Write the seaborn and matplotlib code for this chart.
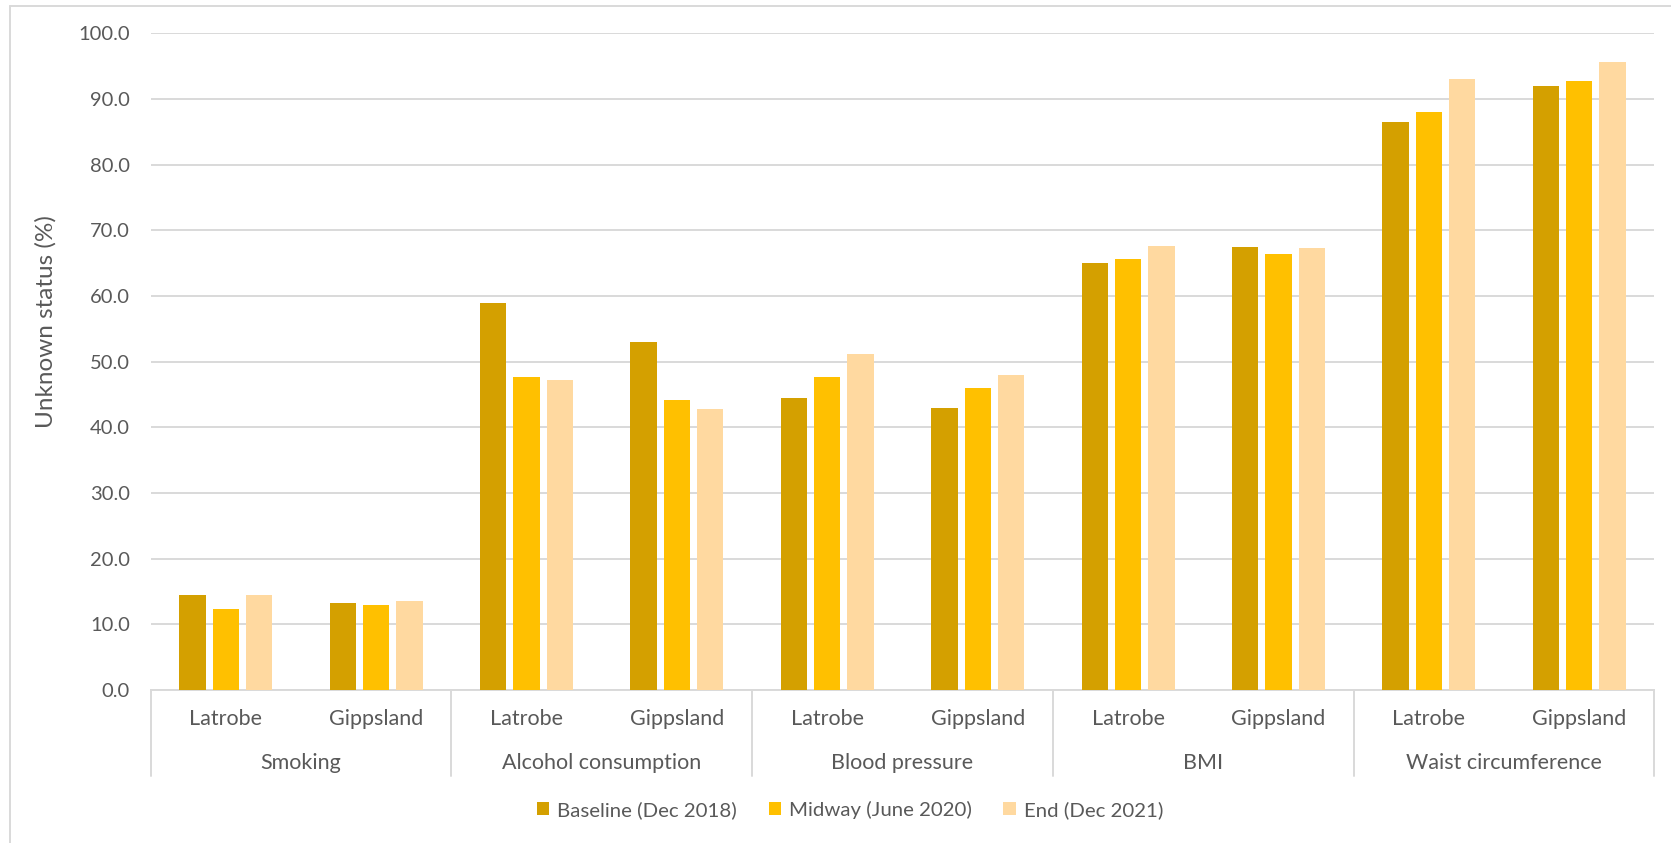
import matplotlib
matplotlib.use("Agg")
import matplotlib.pyplot as plt
from matplotlib.patches import Patch
from matplotlib.lines import Line2D
import matplotlib.transforms as mtransforms
import numpy as np
import pandas as pd
import seaborn as sns

# Data
measures = ["Smoking", "Alcohol consumption", "Blood pressure", "BMI", "Waist circumference"]
regions = ["Latrobe", "Gippsland"]
periods = ["Baseline (Dec 2018)", "Midway (June 2020)", "End (Dec 2021)"]

baseline = [14.4, 13.3, 59.0, 53.0, 44.4, 43.0, 65.0, 67.5, 86.5, 92.0]
midway = [12.4, 12.9, 47.6, 44.1, 47.7, 46.0, 65.7, 66.4, 88.0, 92.7]
end = [14.4, 13.6, 47.2, 42.8, 51.2, 47.9, 67.6, 67.3, 93.1, 95.6]

y_ticks = [0, 10, 20, 30, 40, 50, 60, 70, 80, 90, 100]
y_label = "Unknown status (%)"

colors = ["#D4A000", "#FFC000", "#FFD9A0"]
text_color = "#595959"
grid_color = "#D9D9D9"

# Long-format table
slots = [f"{m}|{r}" for m in measures for r in regions]
rows = []
for series_name, vals in zip(periods, [baseline, midway, end]):
    for slot, v in zip(slots, vals):
        rows.append({"slot": slot, "period": series_name, "value": v})
df = pd.DataFrame(rows)

sns.set_theme(style="white")
plt.rcParams["font.family"] = ["Lato", "DejaVu Sans"]

fig = plt.figure(figsize=(16.71, 8.43), dpi=100)
W, H = 1671, 843
ax = fig.add_axes([150.7 / W, 1 - 690 / H, (1654.3 - 150.7) / W, (690 - 33.3) / H])

sns.barplot(data=df, x="slot", y="value", hue="period", order=slots,
            hue_order=periods, palette=colors, width=0.665, gap=0.21,
            saturation=1, errorbar=None, legend=False, ax=ax, zorder=3,
            edgecolor="none")

ax.set_xlim(-0.5, len(slots) - 0.5)
ax.set_ylim(0, 100)
ax.set_yticks(y_ticks)
ax.set_yticklabels([f"{t:.1f}" for t in y_ticks])
ax.yaxis.grid(True, color=grid_color, linewidth=1.4, zorder=0)
ax.set_axisbelow(True)
ax.tick_params(axis="y", length=0, pad=15, labelsize=14.5, labelcolor=text_color)
ax.set_xticks([])
ax.set_xlabel("")
ax.set_ylabel("")
for side in ["top", "right", "left"]:
    ax.spines[side].set_visible(False)
ax.spines["bottom"].set_color(grid_color)
ax.spines["bottom"].set_linewidth(1.4)

# Two-level category labels
trans = mtransforms.blended_transform_factory(ax.transData, ax.transAxes)
span = 690 - 33.3
y_sub = -(719 - 690) / span
y_grp = -(763 - 690) / span
y_sep = -(776 - 690) / span
for i, slot in enumerate(slots):
    ax.text(i, y_sub, slot.split("|")[1], transform=trans, ha="center",
            va="center", fontsize=15.5, color=text_color)
for j, m in enumerate(measures):
    ax.text(2 * j + 0.5, y_grp, m, transform=trans, ha="center",
            va="center", fontsize=15.5, color=text_color)
for b in np.arange(len(measures) + 1) * 2 - 0.5:
    ax.add_line(Line2D([b, b], [0, y_sep], transform=trans, color=grid_color,
                       linewidth=1.4, clip_on=False))

fig.text(46 / W, 1 - 322 / H, y_label, rotation=90, ha="center", va="center",
         fontsize=17.5, color=text_color)

handles = [Patch(facecolor=c, edgecolor="none", label=p) for c, p in zip(colors, periods)]
leg = fig.legend(handles=handles, loc="center", bbox_to_anchor=(850 / W, 1 - 810 / H),
                 ncol=3, frameon=False, fontsize=14.7, handlelength=0.6,
                 handleheight=0.6, handletextpad=0.4, columnspacing=1.55)
for t in leg.get_texts():
    t.set_color(text_color)

# Outer chart frame
fig.add_artist(Line2D([10 / W, 1.0], [1 - 6 / H, 1 - 6 / H], transform=fig.transFigure,
                      color=grid_color, linewidth=1.4))
fig.add_artist(Line2D([10 / W, 10 / W], [0, 1 - 6 / H], transform=fig.transFigure,
                      color=grid_color, linewidth=1.4))

fig.savefig("out.png", dpi=100, facecolor="white")
